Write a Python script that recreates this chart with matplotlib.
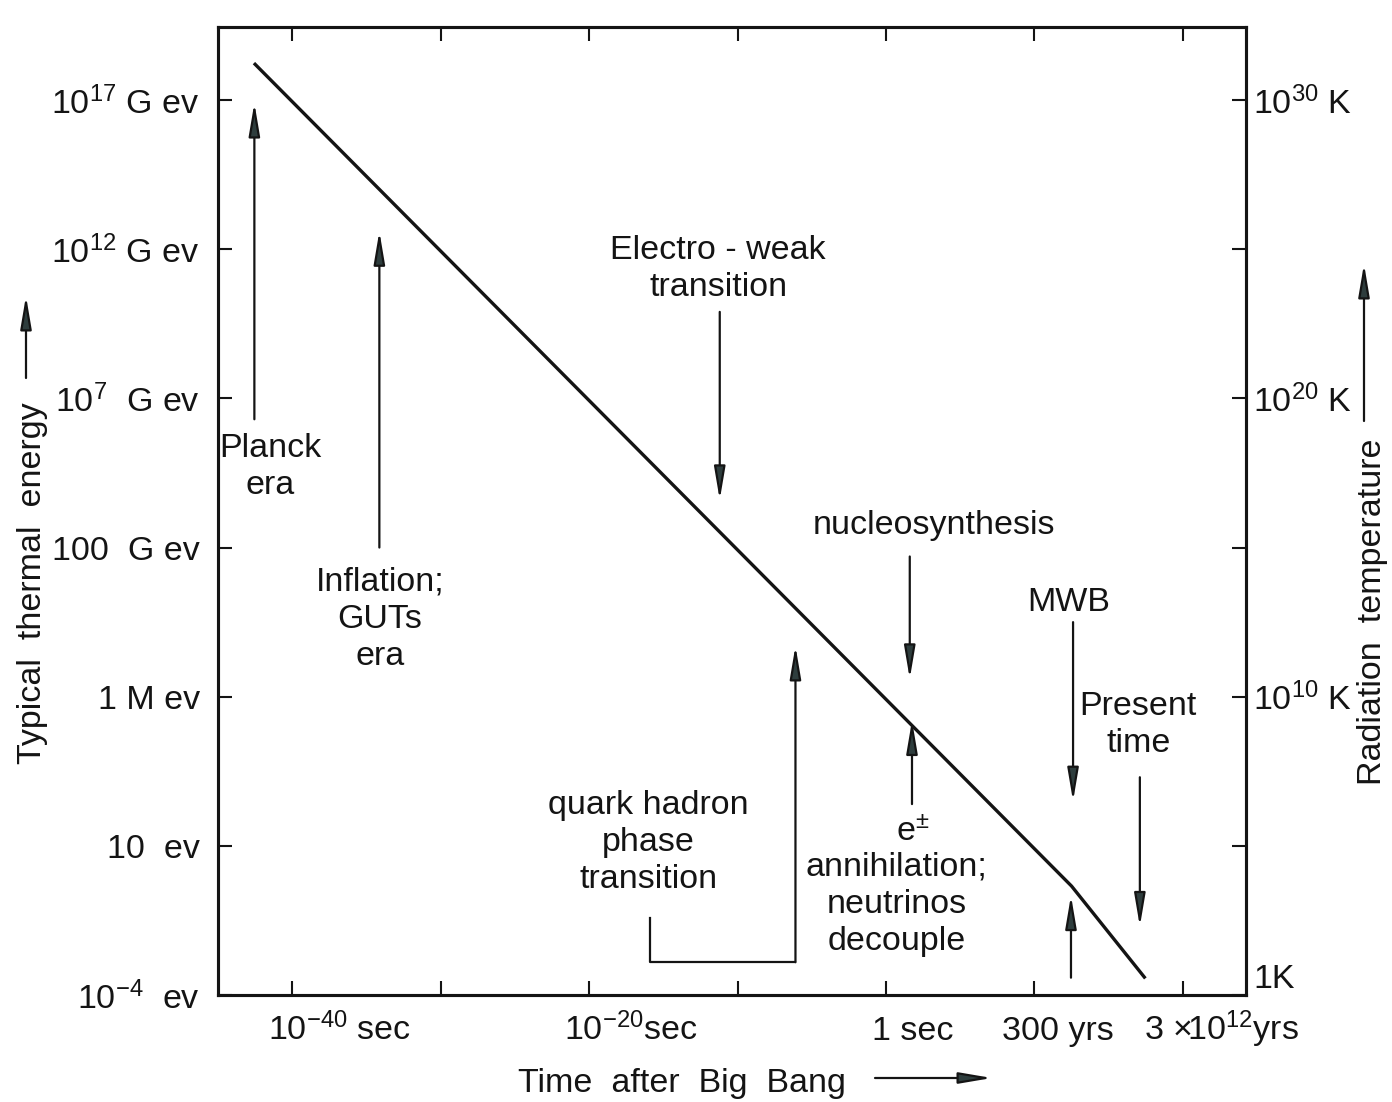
import matplotlib.pyplot as plt
from matplotlib import font_manager
from matplotlib.patches import FancyArrowPatch

# narrow technical lettering: take the narrowest family that is installed
installed = {f.name for f in font_manager.fontManager.ttflist}
if 'Liberation Sans Narrow' in installed:
    FONT, SIZE = 'Liberation Sans Narrow', 28
elif 'Liberation Sans' in installed:
    FONT, SIZE = 'Liberation Sans', 24.5
else:
    FONT, SIZE = 'DejaVu Sans', 21

plt.rcParams['font.family'] = [FONT, 'DejaVu Sans']
plt.rcParams['mathtext.fontset'] = 'custom'
plt.rcParams['mathtext.rm'] = FONT
plt.rcParams['mathtext.it'] = FONT
plt.rcParams['mathtext.default'] = 'regular'

INK = '#141414'
HEAD = '#2e3d3d'

# cooling curve: log10(time after Big Bang / s) vs log10(thermal energy / eV)
log_time = [-42.5, 12.5, 17.4]
log_energy = [27.2, -0.35, -3.4]

energy_ticks = [26, 21, 16, 11, 6, 1, -4]
energy_labels = [r'$10^{17}$ G ev', r'$10^{12}$ G ev', r'$10^{7}$  G ev',
                 '100  G ev', '1 M ev', '10  ev', r'$10^{-4}$  ev']

temp_ticks = [0, 10, 20, 30]          # log10(T / K)
temp_minor = [5, 15, 25]
temp_labels = ['1K', r'$10^{10}$ K', r'$10^{20}$ K', r'$10^{30}$ K']

time_ticks = [-40, -30, -20, -10, 0, 10, 20]
time_named = [-40, -20, 0, 10, 20]
time_labels = [r'$10^{-40}$ sec', r'$10^{-20}$sec', '1 sec', '300 yrs',
               r'3 $\times\!10^{12}$yrs']

# event labels (placed in log time / log energy)
event_text = ['Planck\nera', 'Inflation;\nGUTs\nera',
              'Electro - weak\ntransition', 'nucleosynthesis', 'MWB',
              'Present\ntime', r'$e^{\pm}$', 'annihilation;\nneutrinos\ndecouple',
              'quark hadron\nphase\ntransition']
event_t = [-41.5, -34.1, -11.3, 3.2, 12.3, 17.0, 1.8, 0.7, -16.0]
event_e = [13.7, 8.6, 20.35, 11.75, 9.15, 5.05, 1.45, -0.95, 1.1]

# vertical pointer arrows: time, tail energy, tip energy
arrow_t = [-42.55, -34.13, -11.2, 1.6, 12.6, 17.1, 1.75, 12.46]
arrow_from = [15.3, 11.0, 18.9, 10.7, 8.5, 3.3, 2.4, -3.42]
arrow_to = [25.9, 21.6, 12.6, 6.6, 2.5, -1.7, 5.2, -0.67]

# bracket under the quark-hadron label, ending in an arrow
bracket_t = [-15.9, -15.9, -6.1]
bracket_e = [-1.43, -2.9, -2.9]
bracket_tip = 7.7

ARROW = dict(arrowstyle='-|>,head_length=1.0,head_width=0.17', mutation_scale=20,
             lw=1.6, ec=INK, fc=HEAD, shrinkA=0, shrinkB=0)

fig = plt.figure(figsize=(13.92, 11.02), dpi=100)
ax = fig.add_axes([218 / 1392, 107 / 1102, 1028 / 1392, 968 / 1102])
ax.set_xlim(-45, 24.25)
ax.set_ylim(-4, 28.45)

ax.plot(log_time, log_energy, color=INK, lw=2.4, solid_joinstyle='miter')

for t, e0, e1 in zip(arrow_t, arrow_from, arrow_to):
    ax.annotate('', xy=(t, e1), xytext=(t, e0), arrowprops=ARROW)

ax.plot(bracket_t, bracket_e, color=INK, lw=1.6)
ax.annotate('', xy=(bracket_t[-1], bracket_tip), xytext=(bracket_t[-1], bracket_e[-1]),
            arrowprops=ARROW)

for txt, t, e in zip(event_text, event_t, event_e):
    ax.text(t, e, txt, ha='center', va='center', fontsize=SIZE, color=INK,
            linespacing=1.25)

# axes frame and ticks
for sp in ax.spines.values():
    sp.set_linewidth(2.2)
    sp.set_color(INK)

ax.set_xticks(time_ticks)
ax.set_xticklabels([])
ax.tick_params(axis='x', direction='in', length=10, width=1.5, top=True, color=INK)
ax.set_yticks(energy_ticks, energy_labels)
ax.tick_params(axis='y', direction='in', length=10, width=1.5, pad=13,
               labelsize=SIZE, colors=INK)

shift = [3.2, 2.8, 1.8, 1.6, 2.6]
for t, lab, s in zip(time_named, time_labels, shift):
    ax.text(t + s, -0.047, lab, transform=ax.get_xaxis_transform(),
            ha='center', va='baseline', fontsize=SIZE, color=INK)

ax2 = ax.twinx()
ax2.set_ylim(0, 32.45)
ax2.set_yticks(temp_ticks, temp_labels)
ax2.set_yticks(temp_minor, minor=True)
ax2.tick_params(axis='y', which='both', direction='in', length=10, width=1.5,
                pad=5, labelsize=SIZE, colors=INK)
for sp in ax2.spines.values():
    sp.set_linewidth(2.2)
    sp.set_color(INK)
for lab in ax2.get_yticklabels():
    if lab.get_text() == '1K':
        lab.set_va('bottom')

# axis titles with their arrows (figure pixel positions)
W, H = 1392, 1102
fig.text(518 / W, 1 - 1092 / H, 'Time  after  Big  Bang', ha='left', va='baseline',
         fontsize=SIZE, color=INK)
fig.text(33 / W, 1 - 583 / H, 'Typical  thermal  energy', rotation=90,
         ha='center', va='center', fontsize=SIZE, color=INK)
fig.text(1372 / W, 1 - 612 / H, 'Radiation  temperature', rotation=90,
         ha='center', va='center', fontsize=SIZE, color=INK)

for (x0, y0), (x1, y1) in [((875, 1078), (992, 1078)),
                           ((26, 378), (26, 296)),
                           ((1364, 421), (1364, 264))]:
    fig.add_artist(FancyArrowPatch((x0 / W, 1 - y0 / H), (x1 / W, 1 - y1 / H),
                                   transform=fig.transFigure, **ARROW))

fig.savefig('out.png', dpi=100, facecolor='white')
